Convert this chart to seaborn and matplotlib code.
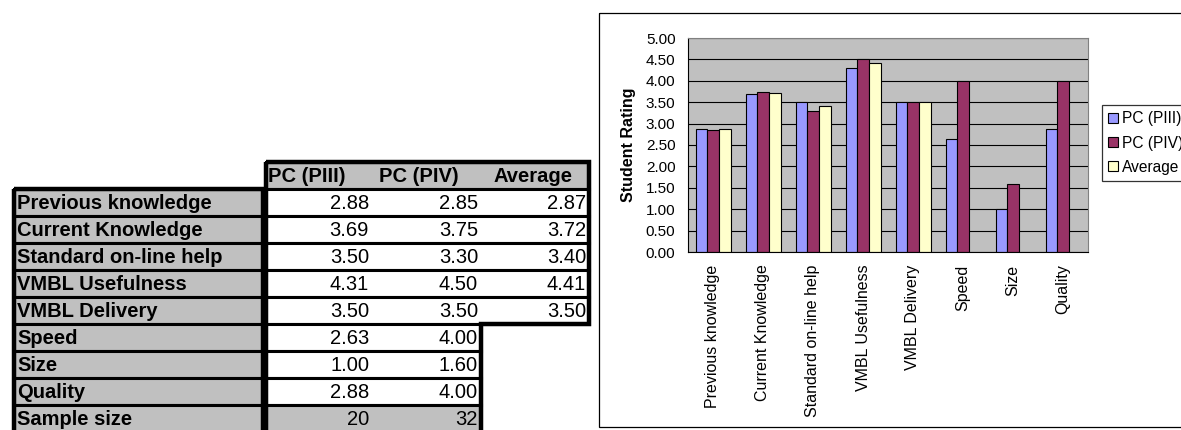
import numpy as np
import pandas as pd
import matplotlib
matplotlib.use("Agg")
import matplotlib.pyplot as plt
from matplotlib.patches import Rectangle, Polygon
from matplotlib.ticker import FormatStrFormatter
import seaborn as sns

# ---- data -------------------------------------------------------------
categories = ["Previous knowledge", "Current Knowledge", "Standard on-line help",
              "VMBL Usefulness", "VMBL Delivery", "Speed", "Size", "Quality"]
series_names = ["PC (PIII)", "PC (PIV)", "Average"]
pc_piii = [2.88, 3.69, 3.50, 4.31, 3.50, 2.63, 1.00, 2.88]
pc_piv = [2.85, 3.75, 3.30, 4.50, 3.50, 4.00, 1.60, 4.00]
average = [2.87, 3.72, 3.40, 4.41, 3.50]          # first five items only
sample_size = [20, 32]
y_ticks = [0.0, 0.5, 1.0, 1.5, 2.0, 2.5, 3.0, 3.5, 4.0, 4.5, 5.0]
y_label = "Student Rating"

bar_colors = ["#9999FF", "#993366", "#FFFFCC"]
grey = "#C0C0C0"

sns.set_theme(style="white")
plt.rcParams["font.family"] = ["Liberation Sans", "DejaVu Sans"]
plt.rcParams.update({"text.color": "black", "axes.labelcolor": "black",
                     "xtick.color": "black", "ytick.color": "black"})

W, H = 1181, 430
fig = plt.figure(figsize=(W / 100, H / 100), dpi=100)

# ---- summary table (pixel coordinates) ---------------------------------
tab = fig.add_axes([0, 0, 1, 1])
tab.set_xlim(0, W)
tab.set_ylim(H, 0)
tab.axis("off")

lab_x0, lab_x1 = 14, 263
col_edges = [266, 372, 481, 589]
head_y0, row_y0, row_h = 162, 189, 27
cell_lw = 2.2
fs_tab = 14.5

row_labels = categories + ["Sample size"]
series_vals = [pc_piii, pc_piv, average]

# header
tab.add_patch(Rectangle((col_edges[0], head_y0), col_edges[3] - col_edges[0], row_y0 - head_y0,
                        fc=grey, ec="black", lw=cell_lw))
head_x = [col_edges[0] + 2, col_edges[1] + 7, col_edges[2] + 13]
for x, name in zip(head_x, series_names):
    tab.text(x, (head_y0 + row_y0) / 2 + 1, name, ha="left", va="center",
             fontsize=fs_tab, fontweight="bold", color="black")

for i, lab in enumerate(row_labels):
    y0 = row_y0 + i * row_h
    yc = y0 + row_h / 2 + 1
    tab.add_patch(Rectangle((lab_x0, y0), lab_x1 - lab_x0, row_h, fc=grey, ec="black", lw=cell_lw))
    tab.text(lab_x0 + 3, yc, lab, ha="left", va="center", fontsize=fs_tab,
             fontweight="bold", color="black")
    if i < len(categories):
        ncols = sum(1 for s in series_vals if i < len(s))
        fc = "white"
    else:
        ncols = 2
        fc = grey
    x_right = col_edges[ncols]
    tab.add_patch(Rectangle((col_edges[0], y0), x_right - col_edges[0], row_h,
                            fc=fc, ec="black", lw=cell_lw))
    for j in range(ncols):
        if i < len(categories):
            txt = f"{series_vals[j][i]:.2f}"
        else:
            txt = f"{sample_size[j]}"
        tab.text(col_edges[j + 1] - 3, yc, txt, ha="right", va="center",
                 fontsize=fs_tab, color="black")

# heavier outlines around the label column and the value block
n_rows = len(row_labels)
bottom = row_y0 + n_rows * row_h
tab.add_patch(Rectangle((lab_x0, row_y0), lab_x1 - lab_x0, bottom - row_y0,
                        fill=False, ec="black", lw=3.2))
split_y = row_y0 + len(average) * row_h
tab.add_patch(Polygon([(col_edges[0], head_y0), (col_edges[3], head_y0), (col_edges[3], split_y),
                       (col_edges[2], split_y), (col_edges[2], bottom), (col_edges[0], bottom)],
                      closed=True, fill=False, ec="black", lw=3.2))

# chart frame
tab.add_patch(Rectangle((599, 13), 700, 414, fill=False, ec="black", lw=0.9))

# ---- bar chart ---------------------------------------------------------
rows = []
for name, vals in zip(series_names, series_vals):
    for cat, v in zip(categories, vals):
        rows.append({"Item": cat, "Series": name, "Rating": v})
df = pd.DataFrame(rows)

px0, px1, py0, py1 = 688, 1088, 38, 252
ax = fig.add_axes([px0 / W, 1 - py1 / H, (px1 - px0) / W, (py1 - py0) / H])
ax.set_facecolor(grey)

sns.barplot(data=df, x="Item", y="Rating", hue="Series", order=categories,
            hue_order=series_names, palette=bar_colors, saturation=1,
            width=0.7, edgecolor="black", linewidth=0.8, errorbar=None, ax=ax)

ax.set_xlim(-0.5, len(categories) - 0.5)
ax.set_ylim(0, 5)
ax.set_yticks(y_ticks)
ax.yaxis.set_major_formatter(FormatStrFormatter("%.2f"))
ax.set_axisbelow(True)
ax.yaxis.grid(True, color="black", lw=0.8)
ax.xaxis.grid(False)

ax.set_xticks(np.arange(-0.5, len(categories), 1), minor=True)
ax.tick_params(axis="x", which="major", length=0, pad=9, labelsize=11.5,
               labelrotation=90, labelcolor="black")
ax.tick_params(axis="x", which="minor", length=3.5, width=0.8, color="black", direction="out")
ax.tick_params(axis="y", which="major", length=3, width=0.8, color="black", direction="out",
               pad=6, labelsize=11, labelcolor="black")
ax.set_xlabel("")
ax.set_ylabel(y_label, fontsize=11.5, fontweight="bold", color="black")
ax.yaxis.set_label_coords(-0.13, 0.5)

for side in ["left", "bottom"]:
    ax.spines[side].set_color("black")
    ax.spines[side].set_linewidth(0.8)
for side in ["top", "right"]:
    ax.spines[side].set_color("#808080")
    ax.spines[side].set_linewidth(0.8)

sns.move_legend(ax, loc="upper left", bbox_to_anchor=(1102 / W, 1 - 105 / H),
                bbox_transform=fig.transFigure, title=None, frameon=True, fancybox=False,
                fontsize=11.2, borderaxespad=0, borderpad=0.4, labelspacing=0.6,
                handlelength=0.6, handleheight=0.6, handletextpad=0.3)
leg = ax.get_legend()
leg.get_frame().set_edgecolor("black")
leg.get_frame().set_linewidth(0.9)
for t in leg.get_texts():
    t.set_color("black")

fig.savefig("out.png", dpi=100)
